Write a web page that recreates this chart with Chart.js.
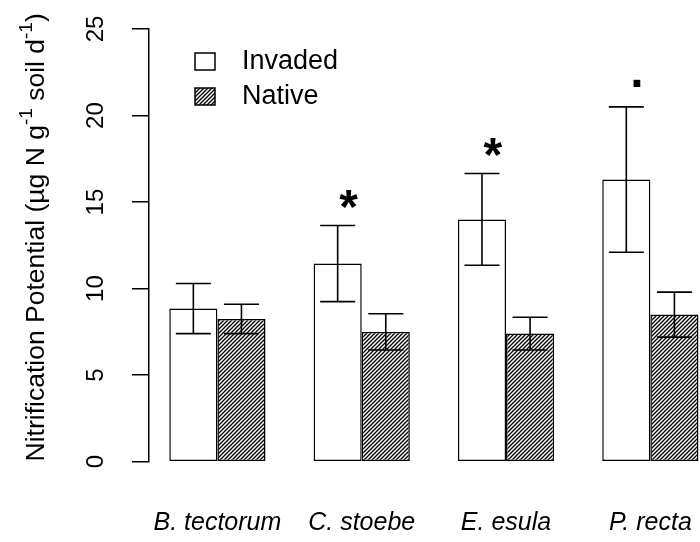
<!DOCTYPE html>
<html>
<head>
<meta charset="utf-8">
<script src="https://cdn.jsdelivr.net/npm/chart.js@4.4.1/dist/chart.umd.min.js"></script>
<style>
  html, body { margin: 0; padding: 0; background: #fff; overflow: hidden; }
  canvas { display: block; }
</style>
</head>
<body>
<canvas id="nitrChart" width="700" height="542"></canvas>
<script>
// Values (means and +/- error)
const species = ['B. tectorum', 'C. stoebe', 'E. esula', 'P. recta'];
const invaded = [8.85, 11.45, 14.0, 16.3];
const invadedErr = [1.45, 2.2, 2.65, 4.2];
const native = [8.25, 7.5, 7.4, 8.5];
const nativeErr = [0.85, 1.05, 0.95, 1.3];
const yTicks = [0, 5, 10, 15, 20, 25];

// significance marks over the invaded bars
const sigText = ['', '*', '*', '.'];
const sigX = [null, 1.91, 2.91, 3.91];
const sigY = [null, 15.2, 18.2, 21.9];

const FONT = '"Liberation Sans", Arial, Helvetica, sans-serif';

const canvas = document.getElementById('nitrChart');
const ctx = canvas.getContext('2d');

// diagonal hatching like R's density/angle fill
function makeHatch() {
    const c = document.createElement('canvas');
    c.width = 4; c.height = 4;
    const g = c.getContext('2d');
    g.fillStyle = '#fff';
    g.fillRect(0, 0, 4, 4);
    g.strokeStyle = '#000';
    g.lineWidth = 1.3;
    g.beginPath();
    g.moveTo(-1, 5); g.lineTo(5, -1);
    g.moveTo(-1, 1); g.lineTo(1, -1);
    g.moveTo(3, 5); g.lineTo(5, 3);
    g.stroke();
    return ctx.createPattern(c, 'repeat');
}
const hatch = makeHatch();

const errorBars = {
    id: 'errorBars',
    afterDatasetsDraw(chart) {
        const c = chart.ctx, y = chart.scales.y;
        [invadedErr, nativeErr].forEach((errs, di) => {
            const meta = chart.getDatasetMeta(di);
            meta.data.forEach((bar, i) => {
                const v = chart.data.datasets[di].data[i].y;
                const hi = y.getPixelForValue(v + errs[i]);
                const lo = y.getPixelForValue(v - errs[i]);
                c.save();
                c.strokeStyle = '#000';
                c.lineWidth = 1.6;
                c.beginPath();
                c.moveTo(bar.x, hi); c.lineTo(bar.x, lo);
                c.moveTo(bar.x - 17.5, hi); c.lineTo(bar.x + 17.5, hi);
                c.moveTo(bar.x - 17.5, lo); c.lineTo(bar.x + 17.5, lo);
                c.stroke();
                c.restore();
            });
        });
    }
};

const extras = {
    id: 'extras',
    afterDraw(chart) {
        const c = chart.ctx, area = chart.chartArea;
        const xs = chart.scales.x, ys = chart.scales.y;

        // significance marks
        c.save();
        c.fillStyle = '#000';
        c.font = 'bold 48px ' + FONT;
        c.textAlign = 'left';
        c.textBaseline = 'alphabetic';
        sigText.forEach((t, i) => {
            if (!t) return;
            const m = c.measureText(t);
            const px = xs.getPixelForValue(sigX[i]);
            const py = ys.getPixelForValue(sigY[i]);
            const w = m.actualBoundingBoxRight + m.actualBoundingBoxLeft;
            const h = m.actualBoundingBoxAscent + m.actualBoundingBoxDescent;
            c.fillText(t, px - w / 2 + m.actualBoundingBoxLeft,
                py + h / 2 - m.actualBoundingBoxDescent);
        });
        c.restore();

        // legend
        c.save();
        const lx = area.left + 46, ly = area.top + 24;
        chart.data.datasets.forEach((ds, i) => {
            const by = ly + i * 35;
            c.fillStyle = ds.backgroundColor;
            c.fillRect(lx, by, 20, 17);
            c.strokeStyle = '#000';
            c.lineWidth = 1.5;
            c.strokeRect(lx, by, 20, 17);
            c.fillStyle = '#000';
            c.font = '27px ' + FONT;
            c.textBaseline = 'middle';
            c.textAlign = 'left';
            c.fillText(ds.label, lx + 47, by + 9);
        });
        c.restore();

        // y axis title with superscripts
        const parts = [
            ['Nitrification Potential (\u00b5g N g', false],
            ['-1', true],
            [' soil d', false],
            ['-1', true],
            [')', false]
        ];
        const big = '26.5px ' + FONT, small = '19px ' + FONT;
        c.save();
        let total = 0;
        parts.forEach(p => { c.font = p[1] ? small : big; total += c.measureText(p[0]).width; });
        c.translate(37, (area.top + area.bottom) / 2 - 8);
        c.rotate(-Math.PI / 2);
        c.fillStyle = '#000';
        c.textBaseline = 'middle';
        c.textAlign = 'left';
        let x = -total / 2;
        parts.forEach(p => {
            c.font = p[1] ? small : big;
            c.fillText(p[0], x, p[1] ? -10 : 0);
            x += c.measureText(p[0]).width;
        });
        c.restore();
    }
};

new Chart(ctx, {
    type: 'bar',
    data: {
        datasets: [{
            label: 'Invaded',
            data: invaded.map((v, i) => ({ x: i + 1, y: v })),
            backgroundColor: '#fff',
            borderColor: '#000',
            borderWidth: 1.5,
            borderSkipped: false
        }, {
            label: 'Native',
            data: native.map((v, i) => ({ x: i + 1, y: v })),
            backgroundColor: hatch,
            borderColor: '#000',
            borderWidth: 1.5,
            borderSkipped: false
        }]
    },
    options: {
        responsive: false,
        animation: false,
        devicePixelRatio: 1,
        categoryPercentage: 2 / 3,
        barPercentage: 1,
        layout: { padding: { top: 29, left: 0, right: 0, bottom: 0 } },
        plugins: {
            legend: { display: false },
            tooltip: { enabled: false }
        },
        scales: {
            x: {
                type: 'linear',
                offset: false,
                min: 0.526,
                max: 4.344,
                grid: { display: false, drawTicks: false, offset: false },
                border: { display: false },
                afterBuildTicks(scale) {
                    scale.ticks = species.map((s, i) => ({ value: i + 1 }));
                },
                afterFit(scale) {
                    scale.height = 80.3;
                    scale.paddingLeft = 0;
                    scale.paddingRight = 0;
                },
                ticks: {
                    autoSkip: false,
                    maxRotation: 0,
                    padding: 46,
                    color: '#000',
                    font: { family: FONT, size: 25, style: 'italic' },
                    callback: (v) => species[v - 1]
                }
            },
            y: {
                min: 0,
                max: 25,
                afterBuildTicks(scale) {
                    scale.ticks = yTicks.map(v => ({ value: v }));
                },
                afterFit(scale) {
                    scale.width = 149;
                    scale.paddingTop = 0;
                    scale.paddingBottom = 0;
                },
                grid: {
                    drawOnChartArea: false,
                    drawTicks: true,
                    tickLength: 17,
                    color: '#000',
                    lineWidth: 1.5
                },
                border: { display: true, color: '#000', width: 1.5 },
                ticks: {
                    minRotation: 90,
                    maxRotation: 90,
                    crossAlign: 'center',
                    padding: 22,
                    color: '#000',
                    font: { family: FONT, size: 24 }
                }
            }
        }
    },
    plugins: [errorBars, extras]
});
</script>
</body>
</html>
